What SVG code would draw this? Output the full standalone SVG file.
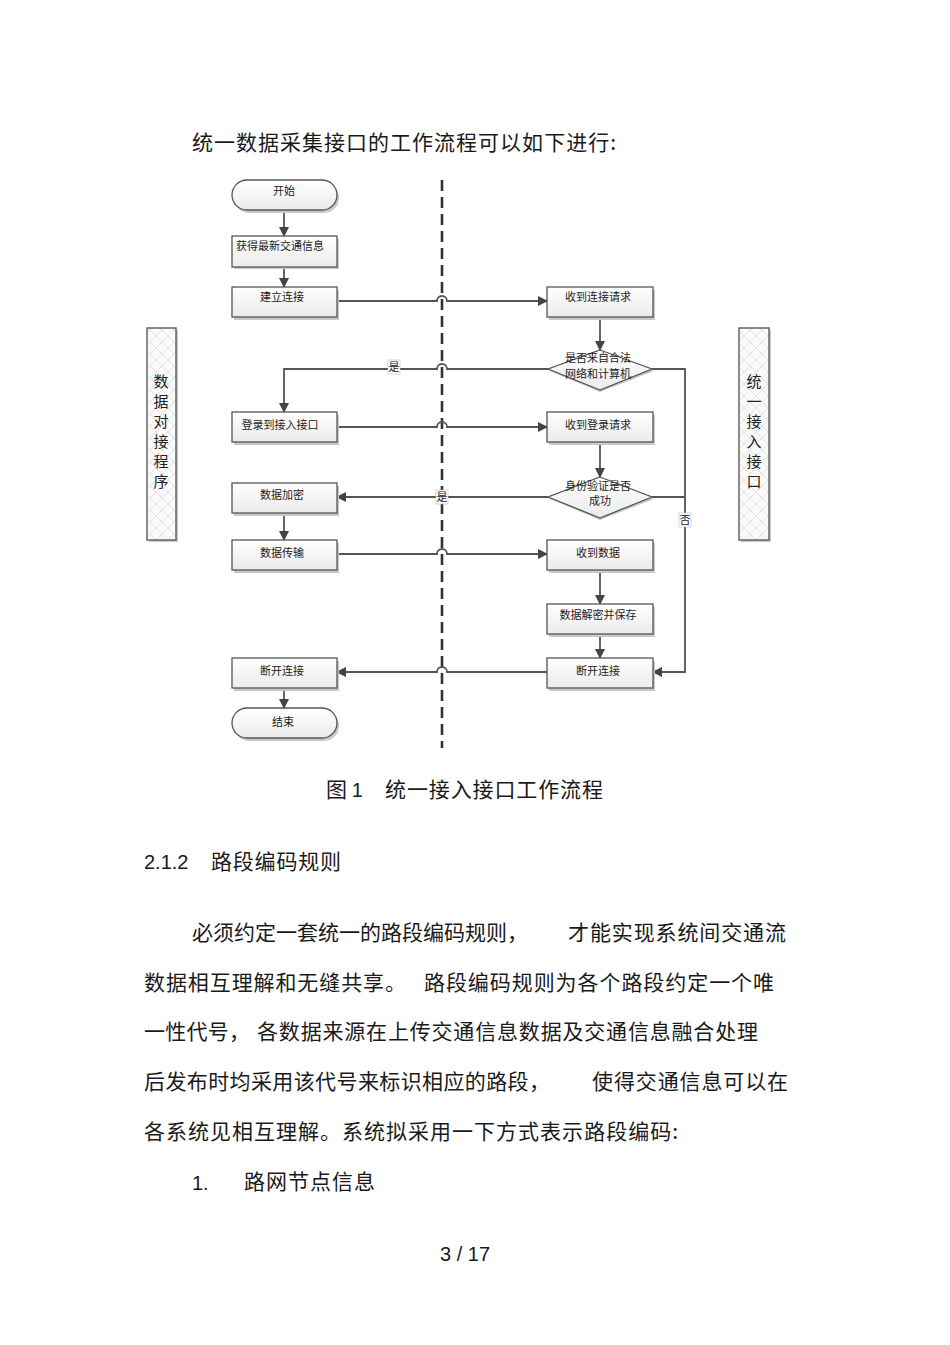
<svg xmlns="http://www.w3.org/2000/svg" width="950" height="1345" viewBox="0 0 950 1345">
<style>
.body{font-family:"Noto Sans CJK SC","Liberation Sans",sans-serif;font-size:21px;fill:#1a1a1a}
.num{font-family:"Liberation Sans","Noto Sans CJK SC",sans-serif;font-size:20px;fill:#1a1a1a}
.lbl{font-family:"Noto Sans CJK SC",sans-serif;font-size:11px;fill:#222}
.lane{font-family:"Noto Sans CJK SC",sans-serif;font-size:15px;fill:#222}
.box{fill:url(#g);stroke:#555;stroke-width:1.3}
.sh{fill:#c8c8c8}
.cn{fill:none;stroke:#555;stroke-width:1.8}
.tag{fill:#fff;stroke:#bbb;stroke-width:0.6}
</style>
<defs>
<linearGradient id="g" x1="0" y1="0" x2="0" y2="1"><stop offset="0" stop-color="#ffffff"/><stop offset="1" stop-color="#ebebeb"/></linearGradient>
<pattern id="hatch" width="12" height="12" patternUnits="userSpaceOnUse"><rect width="12" height="12" fill="#fafafa"/><path d="M0 0L12 12M12 0L0 12" stroke="#dcdcdc" stroke-width="0.8"/></pattern>
<marker id="ar" markerWidth="10" markerHeight="10" refX="9" refY="5" orient="auto" markerUnits="userSpaceOnUse"><path d="M0 0L10 5L0 10z" fill="#444"/></marker>
</defs>
<rect width="950" height="1345" fill="#fff"/>
<text class="body" x="192" y="150" textLength="424" lengthAdjust="spacing">统一数据采集接口的工作流程可以如下进行:</text>

<line x1="442" y1="180" x2="442" y2="748" stroke="#333" stroke-width="2.6" stroke-dasharray="11 6"/>

<g id="lane-left"><rect class="sh" x="149" y="330" width="29" height="212"/><rect x="147" y="328" width="29" height="212" fill="url(#hatch)" stroke="#666" stroke-width="1.5"/>
<text class="lane" x="161" y="387" text-anchor="middle">数</text><text class="lane" x="161" y="407" text-anchor="middle">据</text><text class="lane" x="161" y="427" text-anchor="middle">对</text><text class="lane" x="161" y="447" text-anchor="middle">接</text><text class="lane" x="161" y="467" text-anchor="middle">程</text><text class="lane" x="161" y="487" text-anchor="middle">序</text></g>
<g id="lane-right"><rect class="sh" x="741" y="330" width="30" height="212"/><rect x="739" y="328" width="30" height="212" fill="url(#hatch)" stroke="#666" stroke-width="1.5"/>
<text class="lane" x="754" y="387" text-anchor="middle">统</text><text class="lane" x="754" y="407" text-anchor="middle">一</text><text class="lane" x="754" y="427" text-anchor="middle">接</text><text class="lane" x="754" y="447" text-anchor="middle">入</text><text class="lane" x="754" y="467" text-anchor="middle">接</text><text class="lane" x="754" y="487" text-anchor="middle">口</text></g>

<g id="connectors">
<line class="cn" x1="284" y1="210" x2="284" y2="236" marker-end="url(#ar)"/>
<line class="cn" x1="284" y1="267" x2="284" y2="287" marker-end="url(#ar)"/>
<path class="cn" d="M337 301H437A5 5 0 0 1 447 301H547" marker-end="url(#ar)"/>
<line class="cn" x1="600" y1="317" x2="600" y2="350" marker-end="url(#ar)"/>
<path class="cn" d="M548 369H447A5 5 0 0 0 437 369H284V412" marker-end="url(#ar)"/>
<path class="cn" d="M652 369H685V672H653" marker-end="url(#ar)"/>
<path class="cn" d="M337 427H437A5 5 0 0 1 447 427H547" marker-end="url(#ar)"/>
<line class="cn" x1="600" y1="442" x2="600" y2="477" marker-end="url(#ar)"/>
<path class="cn" d="M548 497H337" marker-end="url(#ar)"/>
<path class="cn" d="M652 497H685"/>
<line class="cn" x1="284" y1="513" x2="284" y2="540" marker-end="url(#ar)"/>
<path class="cn" d="M337 554H437A5 5 0 0 1 447 554H547" marker-end="url(#ar)"/>
<line class="cn" x1="600" y1="570" x2="600" y2="604" marker-end="url(#ar)"/>
<line class="cn" x1="600" y1="634" x2="600" y2="658" marker-end="url(#ar)"/>
<path class="cn" d="M547 672H447A5 5 0 0 0 437 672H337" marker-end="url(#ar)"/>
<line class="cn" x1="284" y1="688" x2="284" y2="708" marker-end="url(#ar)"/>
<rect class="tag" x="388" y="360" width="12" height="14"/><text class="lbl" x="394" y="371" text-anchor="middle">是</text>
<rect class="tag" x="436" y="490" width="12" height="14"/><text class="lbl" x="442" y="501" text-anchor="middle">是</text>
<rect class="tag" x="679" y="513" width="12" height="14"/><text class="lbl" x="685" y="524" text-anchor="middle">否</text>
</g>

<g id="start"><rect class="sh" x="234" y="183" width="105" height="30" rx="15"/><rect class="box" x="232" y="180" width="105" height="30" rx="15"/><text class="lbl" x="284" y="195" text-anchor="middle">开始</text></g>
<g id="get-info"><rect class="sh" x="234" y="239" width="105" height="30"/><rect class="box" x="232" y="236" width="105" height="31"/><text class="lbl" x="236" y="250">获得最新交通信息</text></g>
<g id="connect"><rect class="sh" x="234" y="290" width="105" height="30"/><rect class="box" x="232" y="287" width="105" height="30"/><text class="lbl" x="282" y="301" text-anchor="middle">建立连接</text></g>
<g id="login"><rect class="sh" x="234" y="415" width="105" height="30"/><rect class="box" x="232" y="412" width="105" height="30"/><text class="lbl" x="280" y="429" text-anchor="middle">登录到接入接口</text></g>
<g id="encrypt"><rect class="sh" x="234" y="486" width="105" height="30"/><rect class="box" x="232" y="483" width="105" height="30"/><text class="lbl" x="282" y="499" text-anchor="middle">数据加密</text></g>
<g id="transmit"><rect class="sh" x="234" y="543" width="105" height="30"/><rect class="box" x="232" y="540" width="105" height="30"/><text class="lbl" x="282" y="557" text-anchor="middle">数据传输</text></g>
<g id="disconnect-left"><rect class="sh" x="234" y="661" width="105" height="30"/><rect class="box" x="232" y="658" width="105" height="30"/><text class="lbl" x="282" y="675" text-anchor="middle">断开连接</text></g>
<g id="end"><rect class="sh" x="234" y="711" width="105" height="30" rx="15"/><rect class="box" x="232" y="708" width="105" height="30" rx="15"/><text class="lbl" x="283" y="726" text-anchor="middle">结束</text></g>

<g id="recv-connect"><rect class="sh" x="549" y="290" width="106" height="30"/><rect class="box" x="547" y="287" width="106" height="30"/><text class="lbl" x="598" y="301" text-anchor="middle">收到连接请求</text></g>
<g id="check-network"><path class="sh" d="M600 352L654 371L600 392L550 371z"/><path class="box" d="M600 350L652 369L600 390L548 369z"/><text class="lbl" x="598" y="362" text-anchor="middle">是否来自合法</text><text class="lbl" x="598" y="378" text-anchor="middle">网络和计算机</text></g>
<g id="recv-login"><rect class="sh" x="549" y="415" width="106" height="30"/><rect class="box" x="547" y="412" width="106" height="30"/><text class="lbl" x="598" y="429" text-anchor="middle">收到登录请求</text></g>
<g id="check-auth"><path class="sh" d="M600 479L654 499L600 520L550 499z"/><path class="box" d="M600 477L652 497L600 518L548 497z"/><text class="lbl" x="598" y="490" text-anchor="middle">身份验证是否</text><text class="lbl" x="600" y="505" text-anchor="middle">成功</text></g>
<g id="recv-data"><rect class="sh" x="549" y="543" width="106" height="30"/><rect class="box" x="547" y="540" width="106" height="30"/><text class="lbl" x="598" y="557" text-anchor="middle">收到数据</text></g>
<g id="decrypt"><rect class="sh" x="549" y="607" width="106" height="30"/><rect class="box" x="547" y="604" width="106" height="30"/><text class="lbl" x="598" y="619" text-anchor="middle">数据解密并保存</text></g>
<g id="disconnect-right"><rect class="sh" x="549" y="661" width="106" height="30"/><rect class="box" x="547" y="658" width="106" height="30"/><text class="lbl" x="598" y="675" text-anchor="middle">断开连接</text></g>

<text class="body" x="326" y="797">图 <tspan class="num">1</tspan></text>
<text class="body" x="385" y="797" textLength="218" lengthAdjust="spacing">统一接入接口工作流程</text>
<text class="num" x="144" y="869">2.1.2</text>
<text class="body" x="211" y="869" textLength="130" lengthAdjust="spacing">路段编码规则</text>

<text class="body" x="192" y="940" textLength="336" lengthAdjust="spacing">必须约定一套统一的路段编码规则，</text>
<text class="body" x="568" y="940" textLength="218" lengthAdjust="spacing">才能实现系统间交通流</text>
<text class="body" x="144" y="990" textLength="262" lengthAdjust="spacing">数据相互理解和无缝共享。</text>
<text class="body" x="424" y="990" textLength="350" lengthAdjust="spacing">路段编码规则为各个路段约定一个唯</text>
<text class="body" x="144" y="1039" textLength="106" lengthAdjust="spacing">一性代号，</text>
<text class="body" x="257" y="1039" textLength="501" lengthAdjust="spacing">各数据来源在上传交通信息数据及交通信息融合处理</text>
<text class="body" x="144" y="1089" textLength="406" lengthAdjust="spacing">后发布时均采用该代号来标识相应的路段，</text>
<text class="body" x="592" y="1089" textLength="196" lengthAdjust="spacing">使得交通信息可以在</text>
<text class="body" x="144" y="1139" textLength="534" lengthAdjust="spacing">各系统见相互理解。系统拟采用一下方式表示路段编码:</text>
<text class="num" x="192" y="1190" font-size="17">1.</text>
<text class="body" x="244" y="1189" textLength="131" lengthAdjust="spacing">路网节点信息</text>
<text class="num" x="465" y="1261" text-anchor="middle">3 / 17</text>
</svg>
